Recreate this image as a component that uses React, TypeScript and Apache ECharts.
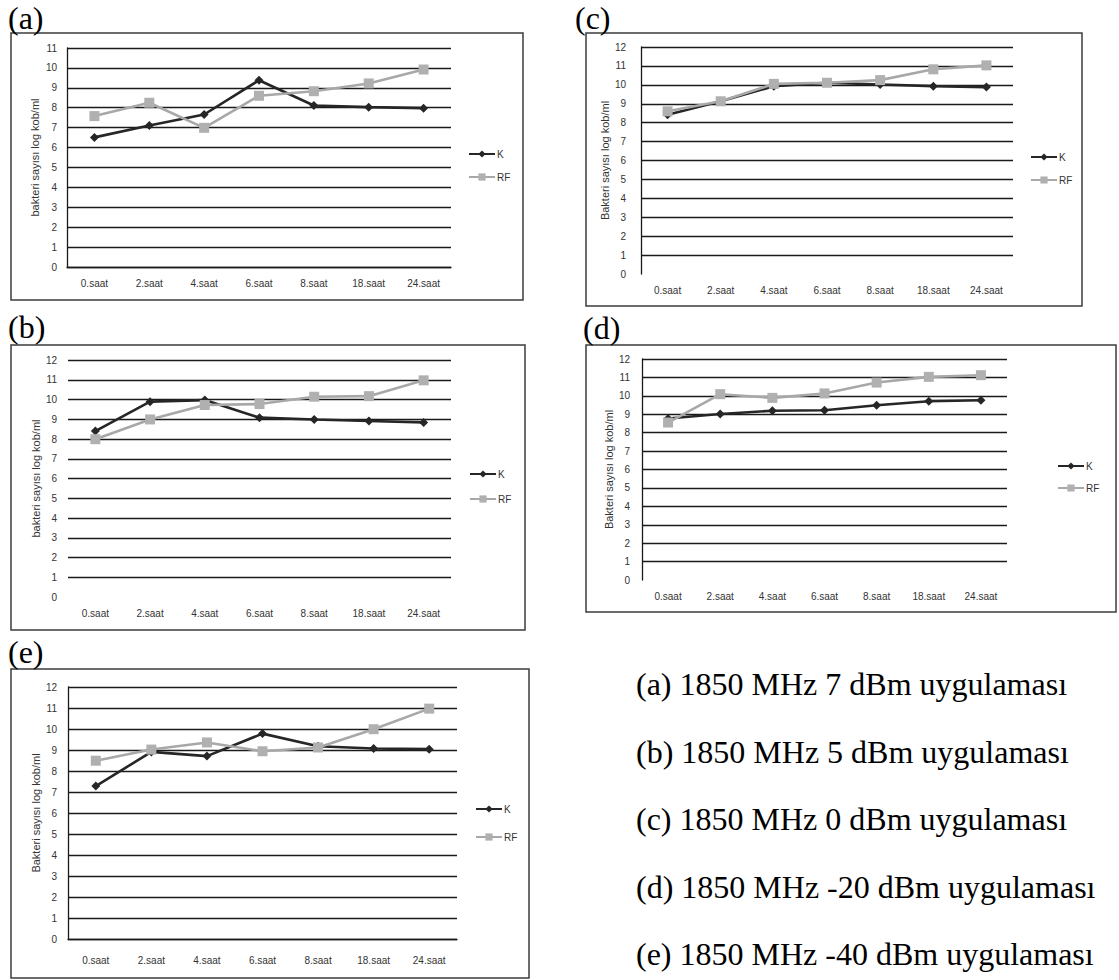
import React, { useEffect, useRef } from "react";
import * as echarts from "echarts";

const categories = ["0.saat", "2.saat", "4.saat", "6.saat", "8.saat", "18.saat", "24.saat"];
const seriesNames = ["K", "RF"];

const kA = [6.51, 7.11, 7.66, 9.38, 8.11, 8.03, 7.98];
const rfA = [7.58, 8.25, 6.99, 8.6, 8.83, 9.22, 9.92];
const kB = [8.4, 9.89, 9.97, 9.08, 8.99, 8.91, 8.84];
const rfB = [7.99, 8.99, 9.72, 9.77, 10.14, 10.17, 10.97];
const kC = [8.42, 9.13, 9.93, 10.11, 10.02, 9.93, 9.88];
const rfC = [8.6, 9.13, 10.05, 10.11, 10.25, 10.82, 11.03];
const kD = [8.77, 9.01, 9.19, 9.22, 9.49, 9.71, 9.76];
const rfD = [8.55, 10.09, 9.89, 10.13, 10.72, 11.03, 11.12];
const kE = [7.28, 8.91, 8.71, 9.78, 9.18, 9.07, 9.04];
const rfE = [8.49, 9.02, 9.36, 8.94, 9.12, 9.99, 10.97];

const yMaxes = [11, 12, 12, 12, 12];
const yNames = [
  "bakteri sayısı log kob/ml",
  "bakteri sayısı log kob/ml",
  "Bakteri sayısı log kob/ml",
  "Bakteri sayısı log kob/ml",
  "Bakteri sayısı log kob/ml",
];
const panelLetters = ["(a)", "(b)", "(c)", "(d)", "(e)"];
const captions = [
  "(a) 1850 MHz 7 dBm uygulaması",
  "(b) 1850 MHz 5 dBm uygulaması",
  "(c) 1850 MHz 0 dBm uygulaması",
  "(d) 1850 MHz -20 dBm uygulaması",
  "(e) 1850 MHz -40 dBm uygulaması",
];

// layout (pixels)
const grids = [
  { left: 67, top: 48, width: 384, height: 219 },
  { left: 68, top: 360, width: 383, height: 237 },
  { left: 641, top: 47, width: 372, height: 227 },
  { left: 642, top: 359, width: 365, height: 221 },
  { left: 68, top: 687, width: 389, height: 252 },
];
const boxes = [
  [11, 33, 512, 267],
  [11, 345, 514, 285],
  [586, 33, 496, 273],
  [586, 345, 530, 267],
  [11, 669, 518, 309],
];
const letterPos = [
  [8, 2],
  [8, 311],
  [575, 2],
  [583, 312],
  [8, 636],
];
const legendPos = [
  [468, 149, 13],
  [469, 469, 15],
  [1030, 152, 13],
  [1057, 461, 12],
  [475, 804, 18],
];
const showYAxisLine = [true, false, true, true, true];
const showZeroLine = [true, false, false, false, true];
const xLabelMargin = [11, 11, 11, 11, 16];
const yLabelMargin = [10, 11, 15, 12, 11];

const App: React.FC = () => {
  const ref = useRef<HTMLDivElement>(null);
  useEffect(() => {
    if (!ref.current) return;
    const chart = echarts.init(ref.current, undefined, { renderer: "svg" });
    const kData = [kA, kB, kC, kD, kE];
    const rfData = [rfA, rfB, rfC, rfD, rfE];
    const labelFont = { fontFamily: "Liberation Sans", fontSize: 10, color: "#333" };

    const xAxis: any[] = [];
    const yAxis: any[] = [];
    const series: any[] = [];
    const legend: any[] = [];
    const grid: any[] = [];
    for (let i = 0; i < 5; i++) {
      grid.push({ ...grids[i], containLabel: false });
      xAxis.push({
        type: "category",
        gridIndex: i,
        data: categories,
        boundaryGap: true,
        axisTick: { show: false },
        axisLine: { show: showZeroLine[i], lineStyle: { color: "#1a1a1a", width: 1.3 } },
        axisLabel: { ...labelFont, margin: xLabelMargin[i], interval: 0 },
        splitLine: { show: false },
      });
      const gridColors: string[] = [];
      for (let t = 0; t <= yMaxes[i]; t++) {
        gridColors.push(t === 0 && !showZeroLine[i] ? "rgba(0,0,0,0)" : "#1a1a1a");
      }
      yAxis.push({
        type: "value",
        gridIndex: i,
        min: 0,
        max: yMaxes[i],
        interval: 1,
        name: yNames[i],
        nameLocation: "middle",
        nameGap: 27,
        nameTextStyle: { fontFamily: "Liberation Sans", fontSize: 11, color: "#333" },
        axisTick: { show: false },
        axisLine: { show: showYAxisLine[i], lineStyle: { color: "#1a1a1a", width: 1.3 } },
        axisLabel: { ...labelFont, margin: yLabelMargin[i] },
        splitLine: { show: true, lineStyle: { color: gridColors, width: 1.3 } },
      });
      series.push({
        name: seriesNames[0],
        type: "line",
        xAxisIndex: i,
        yAxisIndex: i,
        data: kData[i],
        symbol: "diamond",
        symbolSize: 9,
        itemStyle: { color: "#262626" },
        lineStyle: { color: "#262626", width: 2.6 },
        z: 3,
      });
      series.push({
        name: seriesNames[1],
        type: "line",
        xAxisIndex: i,
        yAxisIndex: i,
        data: rfData[i],
        symbol: "rect",
        symbolSize: 10,
        itemStyle: { color: "#b0b0b0" },
        lineStyle: { color: "#a8a8a8", width: 2.6 },
        z: 4,
      });
      legend.push({
        data: seriesNames,
        orient: "vertical",
        left: legendPos[i][0],
        top: legendPos[i][1],
        padding: 0,
        itemGap: legendPos[i][2],
        itemWidth: 26,
        itemHeight: 9,
        textStyle: { fontFamily: "Liberation Sans", fontSize: 10, color: "#333", padding: [0, 0, 0, -3] },
      });
    }

    const graphic: any[] = [];
    boxes.forEach((b) => {
      graphic.push({
        type: "rect",
        shape: { x: b[0], y: b[1], width: b[2], height: b[3] },
        style: { fill: "none", stroke: "#3c3c3c", lineWidth: 1.5 },
        silent: true,
      });
    });
    panelLetters.forEach((t, i) => {
      graphic.push({
        type: "text",
        x: letterPos[i][0],
        y: letterPos[i][1],
        style: {
          text: t,
          font: '32px "Liberation Serif"',
          fill: "#000",
          textVerticalAlign: "top",
        },
      });
    });
    const capY = [684, 752, 819, 887, 954];
    captions.forEach((t, i) => {
      graphic.push({
        type: "text",
        x: 636,
        y: capY[i],
        style: {
          text: t,
          font: '32px "Liberation Serif"',
          fill: "#000",
          textVerticalAlign: "middle",
        },
      });
    });

    chart.setOption({
      animation: false,
      backgroundColor: "#fff",
      grid,
      xAxis,
      yAxis,
      series,
      legend,
      graphic,
    });
    return () => chart.dispose();
  }, []);
  return (
    <div
      ref={ref}
      style={{ position: "absolute", left: 0, top: 0, width: 1119, height: 980 }}
    />
  );
};

export default App;
